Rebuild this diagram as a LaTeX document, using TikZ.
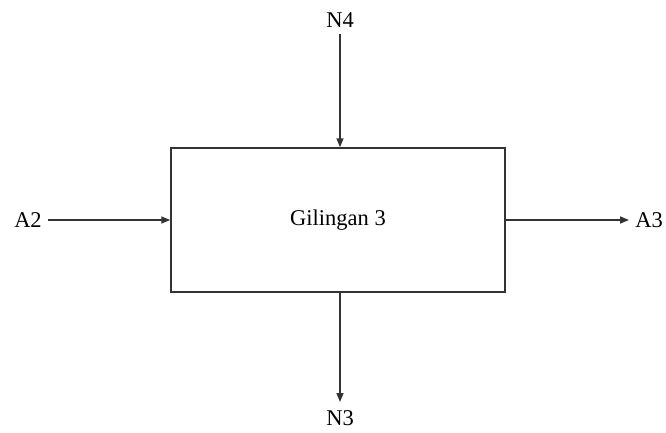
\documentclass[tikz,border=0pt]{standalone}
\usepackage{fontspec}
\setmainfont{Liberation Serif}
\usetikzlibrary{arrows.meta}
\begin{document}
\begin{tikzpicture}[x=1pt,y=-1pt,
  line/.style={draw=black!80, line width=1.5pt},
  arr/.style={line, -{Triangle[length=9pt,width=7pt]}},
  lbl/.style={font=\fontsize{22.5}{26}\selectfont, inner sep=0pt}]
\useasboundingbox (0,0) rectangle (666,432);
\node[line, minimum width=334pt, minimum height=144pt, inner sep=0pt] (box) at (338,220) {};
\node[lbl] at (338,220) {Gilingan 3};
\node[lbl] (a2) at (28,220) {A2};
\node[lbl] (a3) at (649,220) {A3};
\node[lbl] (n4) at (340,20) {N4};
\node[lbl] (n3) at (340,418) {N3};
\coordinate (a2e) at (48,220);
\coordinate (a3s) at (629,220);
\coordinate (n4e) at (340,34);
\coordinate (n3s) at (340,402);
\draw[arr] (a2e) -- (box.west |- a2e);
\draw[arr] (box.east |- a3s) -- (a3s);
\draw[arr] (n4e) -- (box.north -| n4e);
\draw[arr] (box.south -| n3s) -- (n3s);
\end{tikzpicture}
\end{document}
